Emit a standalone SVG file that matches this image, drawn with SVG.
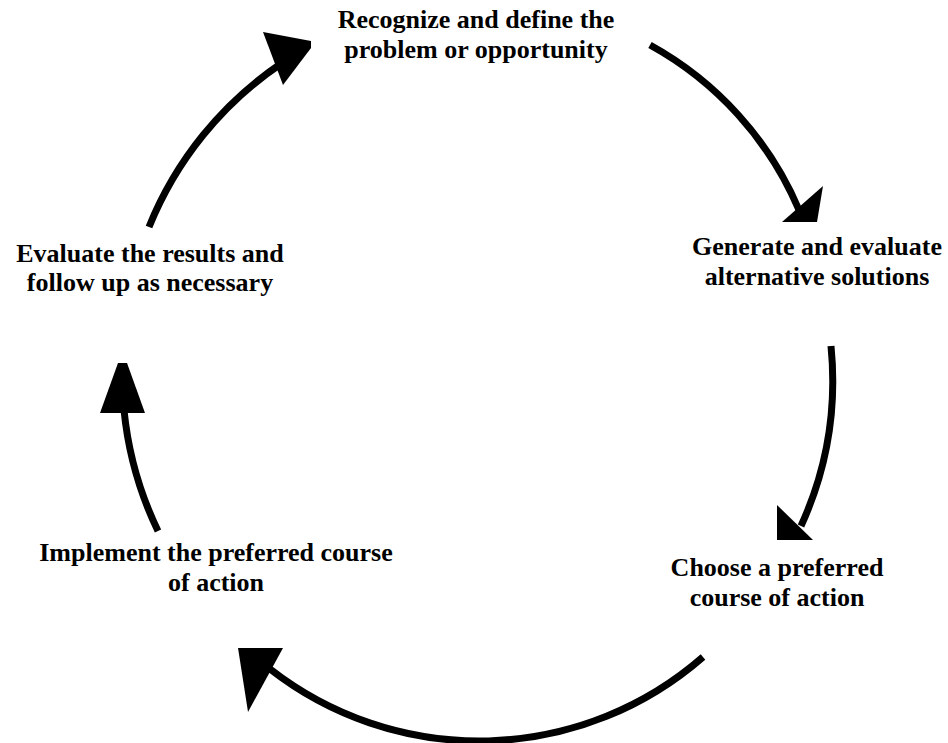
<svg xmlns="http://www.w3.org/2000/svg" width="948" height="743" viewBox="0 0 948 743">
  <style>
    .lbl { font-family: "Liberation Serif", "Times New Roman", serif; font-weight: bold; font-size: 26px; fill: #000; text-anchor: middle; }
    .arc { fill: none; stroke: #000; stroke-width: 7; }
    .head { fill: #000; stroke: none; }
  </style>
  <rect width="948" height="743" fill="#fff"/>

  <g id="node-define">
    <text class="lbl" x="476" y="28">Recognize and define the</text>
    <text class="lbl" x="476" y="58">problem or opportunity</text>
  </g>
  <g id="node-generate">
    <text class="lbl" x="817" y="255">Generate and evaluate</text>
    <text class="lbl" x="817" y="285">alternative solutions</text>
  </g>
  <g id="node-choose">
    <text class="lbl" x="777" y="576">Choose a preferred</text>
    <text class="lbl" x="777" y="606">course of action</text>
  </g>
  <g id="node-implement">
    <text class="lbl" x="216" y="561">Implement the preferred course</text>
    <text class="lbl" x="216" y="591">of action</text>
  </g>
  <g id="node-evaluate">
    <text class="lbl" x="150" y="262">Evaluate the results and</text>
    <text class="lbl" x="150" y="291">follow up as necessary</text>
  </g>

  <g id="connectors">
    <path class="arc" d="M149 227 A360 360 0 0 1 282 63"/>
    <polygon class="head" points="263,32 311,41 311,48 283,85"/>

    <path class="arc" d="M650 45 A340 340 0 0 1 799 210"/>
    <polygon class="head" points="823,186 817,222 782,222"/>

    <path class="arc" d="M831 346 A350 350 0 0 1 801 526"/>
    <polygon class="head" points="777,505 777,540 813,540"/>

    <path class="arc" d="M703 657 A340 340 0 0 1 270 669"/>
    <polygon class="head" points="238,648 283,648 248,712"/>

    <path class="arc" d="M158 531 A360 360 0 0 1 124 410"/>
    <polygon class="head" points="118,363 127,363 145,413 100,413"/>
  </g>
</svg>
